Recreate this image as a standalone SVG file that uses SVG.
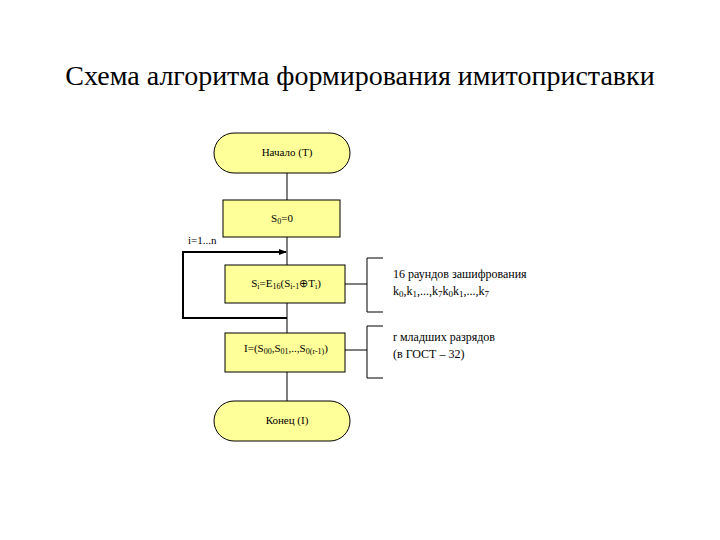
<svg xmlns="http://www.w3.org/2000/svg" width="720" height="540" viewBox="0 0 720 540" font-family="Liberation Serif, serif">
<style>
.n{fill:#FFFF99;stroke:#000;stroke-width:1}
.t{font-size:11px;fill:#000}
.m{font-size:12px;fill:#000}
.c{text-anchor:middle}
.l{stroke:#000;stroke-width:1;fill:none}
.k{stroke:#000;stroke-width:2;fill:none}
</style>
<defs>
<marker id="a" markerWidth="8" markerHeight="8" refX="7" refY="4" orient="auto" markerUnits="userSpaceOnUse">
<path d="M0,1 L8,4 L0,7 Z" fill="#000"/>
</marker>
</defs>
<rect width="720" height="540" fill="#fff"/>
<text x="360" y="85" font-family="Liberation Serif, serif" font-size="28" text-anchor="middle">Схема алгоритма формирования имитоприставки</text>
<g id="connectors">
<path class="l" d="M287,173 V200"/>
<path class="l" d="M287,237 V265"/>
<path class="l" d="M287,303 V333"/>
<path class="l" d="M287,372 V401"/>
<path class="k" d="M287,318 H183 V252 H286" marker-end="url(#a)"/>
<path class="l" d="M345,284 H367 M383,258 H367 V312 H383"/>
<path class="l" d="M345,350 H367 M383,326 H367 V378 H383"/>
</g>
<g id="start" font-family="Liberation Serif, serif">
<rect class="n" x="214" y="133" width="136" height="40" rx="20"/>
<text class="t c" x="287" y="156">Начало (T)</text>
</g>
<g id="init" font-family="Liberation Serif, serif">
<rect class="n" x="223" y="200" width="117" height="37"/>
<text class="t c" x="282" y="222">S<tspan font-size="8" dy="2">0</tspan><tspan dy="-2">=0</tspan></text>
</g>
<g id="loop-label" font-family="Liberation Serif, serif">
<text class="t" x="188" y="244">i=1...n</text>
</g>
<g id="round" font-family="Liberation Serif, serif">
<rect class="n" x="225" y="265" width="120" height="38"/>
<text class="t c" x="286" y="287">S<tspan font-size="8" dy="2">i</tspan><tspan dy="-2">=E</tspan><tspan font-size="8" dy="2">16</tspan><tspan dy="-2">(S</tspan><tspan font-size="8" dy="2">i-1</tspan><tspan dy="-2">⊕T</tspan><tspan font-size="8" dy="2">i</tspan><tspan dy="-2">)</tspan></text>
</g>
<g id="result" font-family="Liberation Serif, serif">
<rect class="n" x="225" y="333" width="120" height="39"/>
<text class="t c" x="286" y="352">I=(S<tspan font-size="8" dy="2">00</tspan><tspan dy="-2">,S</tspan><tspan font-size="8" dy="2">01</tspan><tspan dy="-2">,..,S</tspan><tspan font-size="8" dy="2">0(r-1)</tspan><tspan dy="-2">)</tspan></text>
</g>
<g id="end" font-family="Liberation Serif, serif">
<rect class="n" x="214" y="401" width="136" height="40" rx="20"/>
<text class="t c" x="287" y="424">Конец (I)</text>
</g>
<g id="note1" font-family="Liberation Serif, serif">
<text class="m" x="393" y="278">16 раундов зашифрования</text>
<text class="m" x="393" y="295">k<tspan font-size="9" dy="2">0</tspan><tspan dy="-2">,k</tspan><tspan font-size="9" dy="2">1</tspan><tspan dy="-2">,...,k</tspan><tspan font-size="9" dy="2">7</tspan><tspan dy="-2">k</tspan><tspan font-size="9" dy="2">0</tspan><tspan dy="-2">k</tspan><tspan font-size="9" dy="2">1</tspan><tspan dy="-2">,...,k</tspan><tspan font-size="9" dy="2">7</tspan></text>
</g>
<g id="note2" font-family="Liberation Serif, serif">
<text class="m" x="393" y="341">r младших разрядов</text>
<text class="m" x="393" y="358">(в ГОСТ – 32)</text>
</g>
</svg>
